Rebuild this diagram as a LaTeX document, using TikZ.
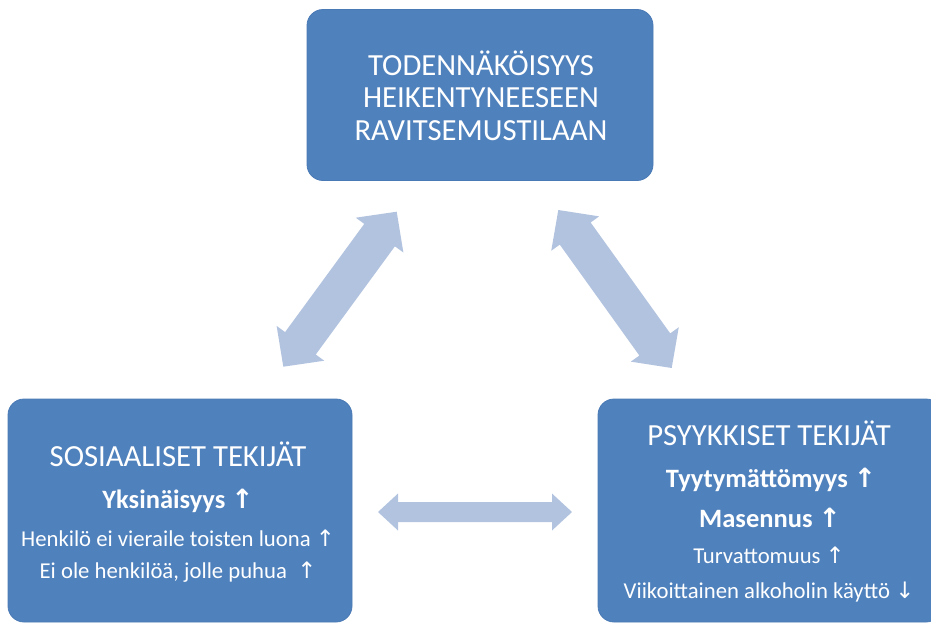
\documentclass[tikz,border=0pt]{standalone}
\usepackage{fontspec}
\setmainfont{Carlito}
\newfontfamily\arrowfont{DejaVu Sans}
\usetikzlibrary{calc}
\definecolor{boxblue}{HTML}{4F81BD}
\definecolor{boxedge}{HTML}{4A7AB5}
\definecolor{arrowblue}{HTML}{B2C3DF}
\tikzset{
  bluebox/.style={fill=boxblue, draw=boxedge, line width=0.8pt, rounded corners=16pt, inner sep=0pt},
  txt/.style={text=white, anchor=base, inner sep=0pt},
  arrowshape/.style={fill=arrowblue},
  bigfont/.style={font=\fontsize{30.7}{32}\selectfont},
  boldfont/.style={font=\bfseries\fontsize{26.5}{28}\selectfont},
  smallfont/.style={font=\fontsize{22.7}{26}\selectfont},
}
% double block arrow between two named coordinates
% #1,#2 tips; #3 shaft half-width; #4 head half-width; #5 head length
\newcommand{\blockdbl}[5]{%
  \coordinate (ha) at ($(#1)!#5!(#2)$);
  \coordinate (hb) at ($(#2)!#5!(#1)$);
  \fill[arrowshape] (#1) -- ($(ha)!#4!-90:(#2)$) -- ($(ha)!#3!-90:(#2)$)
    -- ($(hb)!#3!90:(#1)$) -- ($(hb)!#4!90:(#1)$) -- (#2)
    -- ($(hb)!#4!-90:(#1)$) -- ($(hb)!#3!-90:(#1)$)
    -- ($(ha)!#3!90:(#2)$) -- ($(ha)!#4!90:(#2)$) -- cycle;
}
\newcommand{\upar}{{\arrowfont\char"2191}}
\newcommand{\dnar}{{\arrowfont\char"2193}}
\begin{document}
\begin{tikzpicture}[x=1pt,y=-1pt]
\useasboundingbox (0,0) rectangle (931,624);
% boxes
\node[bluebox, minimum width=346pt, minimum height=171pt] (top) at (480,95) {};
\node[bluebox, minimum width=344pt, minimum height=223pt] (left) at (180,510.5) {};
\node[bluebox, minimum width=344pt, minimum height=223pt] (right) at (770,510.5) {};
% top text
\node[txt, bigfont] (t1) at (481,75) {TODENNÄKÖISYYS};
\node[txt, bigfont] (t2) at (481,107) {HEIKENTYNEESEEN};
\node[txt, bigfont] (t3) at (481,140) {RAVITSEMUSTILAAN};
% left text
\node[txt, bigfont] (l1) at (178,466) {SOSIAALISET TEKIJÄT};
\node[txt, boldfont] (l2) at (178,508) {Yksinäisyys \upar};
\node[txt, smallfont] (l3) at (178,546) {Henkilö ei vieraile toisten luona \upar};
\node[txt, smallfont] (l4) at (178,578) {Ei ole henkilöä, jolle puhua \ \upar};
% right text
\node[txt, bigfont] (r1) at (769,445) {PSYYKKISET TEKIJÄT};
\node[txt, boldfont] (r2) at (771,487) {Tyytymättömyys \upar};
\node[txt, boldfont] (r3) at (770,527) {Masennus \upar};
\node[txt, smallfont] (r4) at (769,563) {Turvattomuus \upar};
\node[txt, smallfont] (r5) at (769,598) {Viikoittainen alkoholin käyttö \dnar};
% arrows
\coordinate (la) at (283.3,366.7);
\coordinate (lb) at (396.7,211.7);
\coordinate (ra) at (558.3,210);
\coordinate (rb) at (671.7,368);
\coordinate (ha1) at (378,512);
\coordinate (hb1) at (572,512);
\blockdbl{la}{lb}{19pt}{29.5pt}{29pt}
\blockdbl{ra}{rb}{19pt}{29.5pt}{29pt}
\blockdbl{ha1}{hb1}{10pt}{18.5pt}{20pt}
\end{tikzpicture}
\end{document}
